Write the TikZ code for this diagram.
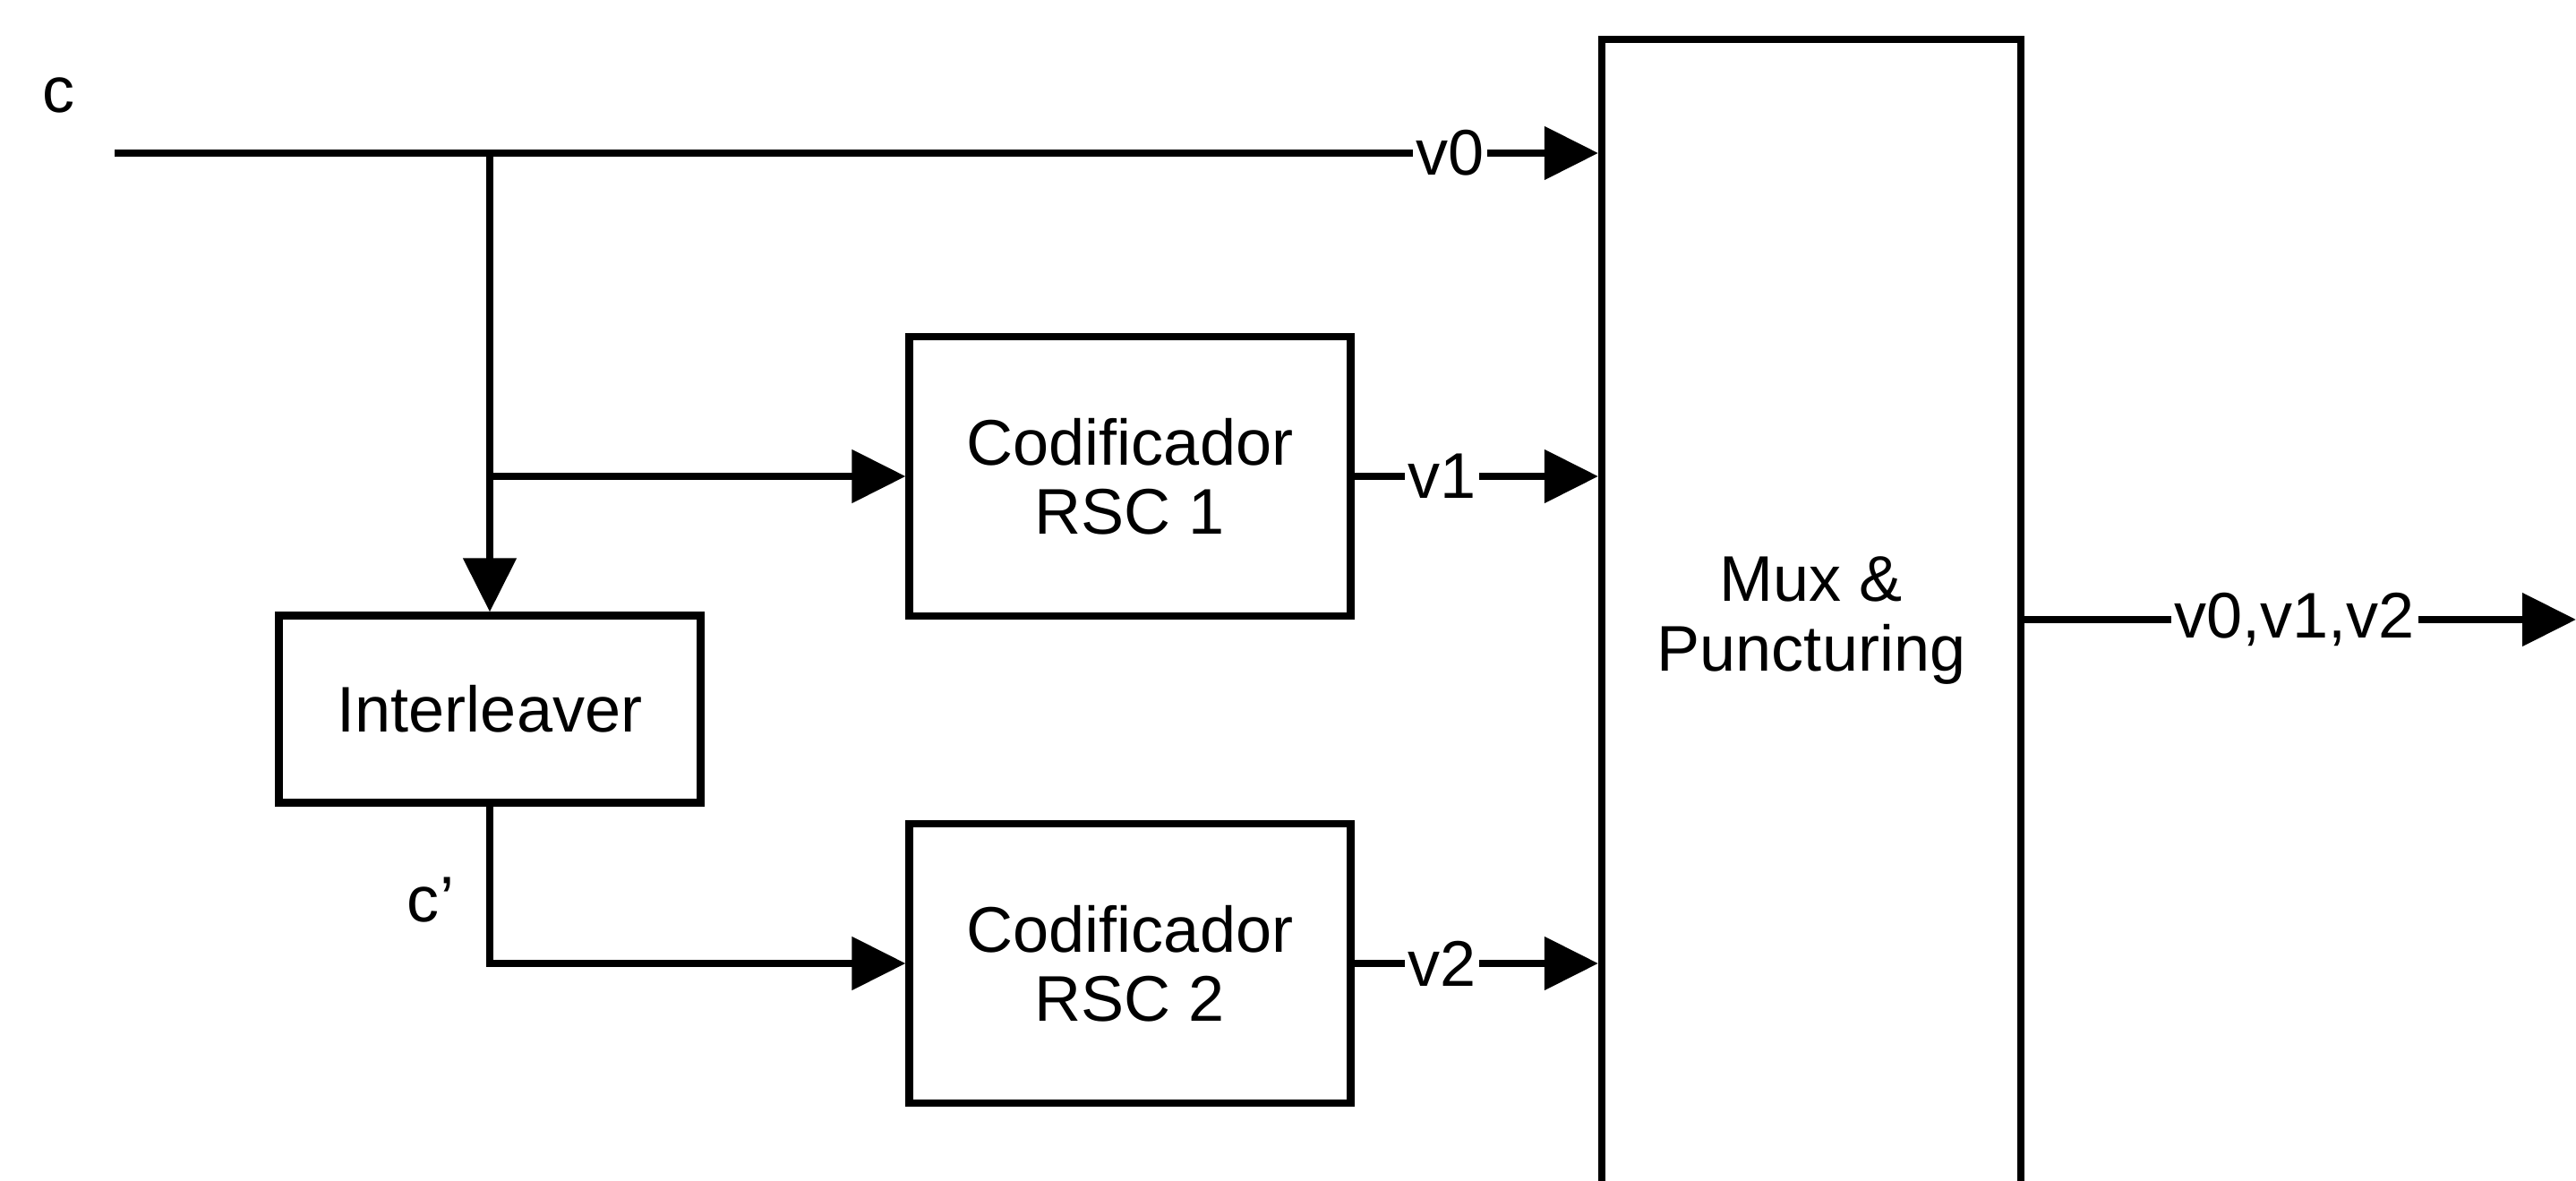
\documentclass[tikz,border=0pt]{standalone}
\usepackage{fontspec}
\setmainfont{Liberation Sans}
\usetikzlibrary{arrows.meta,positioning}

\begin{document}
\begin{tikzpicture}[font=\fontsize{20.5}{22}\selectfont, line width=2.3pt,
  blk/.style={draw, minimum width=4.93cm, minimum height=3.12cm, align=center, inner sep=0pt},
  arr/.style={-{Triangle[length=0.6cm,width=0.58cm]}},
  lbl/.style={fill=white, inner sep=1pt}]
\useasboundingbox (0,0) rectangle (28.77,13.19);
% input
\node (c) at (0.66,12.13) {c};
\coordinate (cin) at (1.28,11.48);
\coordinate (split) at (5.47,11.48);
% encoders
\node[blk] (rsc1) at (12.62,7.87) {Codificador\\ RSC 1};
\node[blk] (rsc2) at (12.62,2.43) {Codificador\\ RSC 2};
% interleaver
\node[blk, minimum width=4.71cm, minimum height=2.09cm] (intl) at (5.47,5.27) {Interleaver};
\node (cp) at (4.81,3.14) {c’};
% mux block (runs off the bottom)
\node[draw, minimum width=4.68cm, minimum height=13.8cm, anchor=north] (mux) at (20.23,12.79) {};
\node[align=center] (muxtxt) at (20.23,6.26) {Mux \&\\ Puncturing};
% connections
\draw[arr] (cin) -- node[lbl, pos=0.9] {v0} (cin -| mux.west);
\draw[arr] (split) -- (intl.north);
\draw[arr] (split |- rsc1.west) -- (rsc1.west);
\draw[arr] (intl.south) |- (rsc2.west);
\draw[arr] (rsc1.east) -- node[lbl, pos=0.36] {v1} (rsc1.east -| mux.west);
\draw[arr] (rsc2.east) -- node[lbl, pos=0.36] {v2} (rsc2.east -| mux.west);
% output
\coordinate (out) at (28.77,6.27);
\draw[arr] (mux.east |- out) -- node[lbl, pos=0.49] {v0,v1,v2} (out);
\end{tikzpicture}
\end{document}
